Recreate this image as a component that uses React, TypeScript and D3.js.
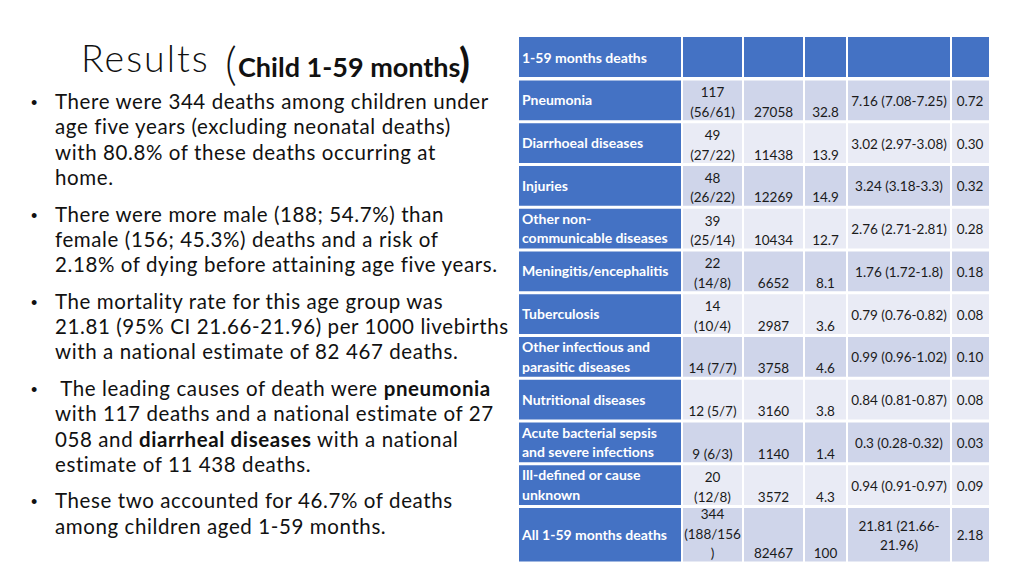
import React from "react";
import * as d3 from "d3";

// ---------- DATA ----------
const causeLabels: string[][] = [
  ["Pneumonia"],
  ["Diarrhoeal diseases"],
  ["Injuries"],
  ["Other non-", "communicable diseases"],
  ["Meningitis/encephalitis"],
  ["Tuberculosis"],
  ["Other infectious and", "parasitic diseases"],
  ["Nutritional diseases"],
  ["Acute bacterial sepsis", "and severe infections"],
  ["Ill-defined or cause", "unknown"],
  ["All 1-59  months deaths"],
];
const deaths = [117, 49, 48, 39, 22, 14, 14, 12, 9, 20, 344];
const maleDeaths = [56, 27, 26, 25, 14, 10, 7, 5, 6, 12, 188];
const femaleDeaths = [61, 22, 22, 14, 8, 4, 7, 7, 3, 8, 156];
// how the deaths cell wraps in the original table
const deathsWrap = ["two", "two", "two", "two", "two", "two", "one", "one", "one", "two", "three"];
const nationalEstimate = [27058, 11438, 12269, 10434, 6652, 2987, 3758, 3160, 1140, 3572, 82467];
const percentShare = ["32.8", "13.9", "14.9", "12.7", "8.1", "3.6", "4.6", "3.8", "1.4", "4.3", "100"];
const mortalityRate = [
  ["7.16 (7.08-7.25)"], ["3.02 (2.97-3.08)"], ["3.24 (3.18-3.3)"], ["2.76 (2.71-2.81)"],
  ["1.76 (1.72-1.8)"], ["0.79 (0.76-0.82)"], ["0.99 (0.96-1.02)"], ["0.84 (0.81-0.87)"],
  ["0.3 (0.28-0.32)"], ["0.94 (0.91-0.97)"], ["21.81 (21.66-", "21.96)"],
];
const riskPct = ["0.72", "0.30", "0.32", "0.28", "0.18", "0.08", "0.10", "0.08", "0.03", "0.09", "2.18"];
const headerLabel = "1-59  months deaths";

type Seg = { t: string; b?: boolean };
const bullets: { lines: Seg[][] }[] = [
  { lines: [
    [{ t: "There were 344 deaths among children under" }],
    [{ t: "age five years (excluding neonatal deaths)" }],
    [{ t: "with 80.8% of these deaths occurring at" }],
    [{ t: "home." }],
  ] },
  { lines: [
    [{ t: "There were more male (188; 54.7%) than" }],
    [{ t: "female (156; 45.3%) deaths and a risk of" }],
    [{ t: "2.18% of dying before attaining age five years." }],
  ] },
  { lines: [
    [{ t: "The mortality rate for this age group was" }],
    [{ t: "21.81 (95% CI 21.66-21.96) per 1000 livebirths" }],
    [{ t: "with a national estimate of 82 467 deaths." }],
  ] },
  { lines: [
    [{ t: "\u00A0The leading causes of death were " }, { t: "pneumonia", b: true }],
    [{ t: "with 117 deaths and a national estimate of 27" }],
    [{ t: "058 and " }, { t: "diarrheal diseases", b: true }, { t: " with a national" }],
    [{ t: "estimate of 11 438 deaths." }],
  ] },
  { lines: [
    [{ t: "These two accounted for 46.7% of deaths" }],
    [{ t: "among children aged 1-59 months." }],
  ] },
];

// ---------- LAYOUT ----------
const W = 1024, H = 576;
const BLUE = "#4472C4";
const DARK = "#CFD5EA";
const LIGHT = "#E9EBF5";
const FONT = "Lato, 'Open Sans', sans-serif";
const colEdges = [519, 682, 743, 804, 847, 951, 989];
const headerTop = 37, headerBottom = 78;
const bodyTop = 79, rowH = 42.75, lastRowH = 56.5;
const lineH = 19.3;

export default function App() {
  const nRows = deaths.length;
  const yRow = d3.scaleLinear().domain([0, nRows - 1]).range([bodyTop, bodyTop + (nRows - 1) * rowH]);
  const rowHeight = (i: number) => (i === nRows - 1 ? lastRowH : rowH);
  const colX = d3.scaleOrdinal<number, number>().domain(d3.range(colEdges.length)).range(colEdges);
  const colCenter = (c: number) => (colX(c) + colX(c + 1)) / 2;

  const deathLines = (i: number): string[] => {
    const a = `${deaths[i]}`, b = `(${maleDeaths[i]}/${femaleDeaths[i]})`;
    if (deathsWrap[i] === "one") return [`${a} ${b}`];
    if (deathsWrap[i] === "three") return [a, b.slice(0, -1), ")"];
    return [a, b];
  };

  const cells: React.ReactNode[] = [];
  // header
  for (let c = 0; c < colEdges.length - 1; c++) {
    const x0 = colX(c) + (c === 0 ? 0 : 1);
    const x1 = colX(c + 1) - (c === colEdges.length - 2 ? 0 : 1);
    cells.push(<rect key={`h${c}`} x={x0} y={headerTop} width={x1 - x0} height={headerBottom - headerTop - 1} fill={BLUE} />);
  }
  cells.push(
    <text key="htxt" x={colX(0) + 3} y={(headerTop + headerBottom) / 2} dominantBaseline="central"
      fill="#fff" fontWeight={700} fontSize={14} fontFamily={FONT}>{headerLabel}</text>
  );

  for (let i = 0; i < nRows; i++) {
    const top = yRow(i) + 1.5;
    const bottom = yRow(i) + rowHeight(i) - 0.5;
    const mid = (top + bottom) / 2;
    const bottomLine = bottom - 9.5;
    const fill = i % 2 === 0 ? DARK : LIGHT;
    for (let c = 0; c < colEdges.length - 1; c++) {
      const x0 = colX(c) + (c === 0 ? 0 : 1);
      const x1 = colX(c + 1) - (c === colEdges.length - 2 ? 0 : 1);
      cells.push(<rect key={`r${i}c${c}`} x={x0} y={top} width={x1 - x0} height={bottom - top - 1}
        fill={c === 0 ? BLUE : fill} />);
    }
    // label
    const lab = causeLabels[i];
    lab.forEach((l, k) => {
      cells.push(
        <text key={`l${i}${k}`} x={colX(0) + 3} y={mid - 1 + (k - (lab.length - 1) / 2) * lineH}
          dominantBaseline="central" fill="#fff" fontWeight={700} fontSize={14} fontFamily={FONT}>{l}</text>
      );
    });
    const dl = deathLines(i);
    dl.forEach((l, k) => {
      cells.push(
        <text key={`d${i}${k}`} x={colCenter(1)} y={bottomLine - (dl.length - 1 - k) * lineH}
          dominantBaseline="central" textAnchor="middle" fill="#1a1a1a" fontSize={13.5} fontFamily={FONT}>{l}</text>
      );
    });
    cells.push(
      <text key={`e${i}`} x={colCenter(2)} y={bottomLine} dominantBaseline="central" textAnchor="middle"
        fill="#1a1a1a" fontSize={13.5} fontFamily={FONT}>{`${nationalEstimate[i]}`}</text>
    );
    cells.push(
      <text key={`p${i}`} x={colCenter(3)} y={bottomLine} dominantBaseline="central" textAnchor="middle"
        fill="#1a1a1a" fontSize={13.5} fontFamily={FONT}>{percentShare[i]}</text>
    );
    const mr = mortalityRate[i];
    mr.forEach((l, k) => {
      cells.push(
        <text key={`m${i}${k}`} x={colCenter(4)} y={mid + (k - (mr.length - 1) / 2) * lineH}
          dominantBaseline="central" textAnchor="middle" fill="#1a1a1a" fontSize={13.5} fontFamily={FONT}>{l}</text>
      );
    });
    cells.push(
      <text key={`k${i}`} x={colCenter(5)} y={mid} dominantBaseline="central" textAnchor="middle"
        fill="#1a1a1a" fontSize={13.5} fontFamily={FONT}>{riskPct[i]}</text>
    );
  }

  // left text
  const textNodes: React.ReactNode[] = [];
  let baseline = 109;
  const bodyLineH = 25.3;
  const bulletGap = 11.3;
  bullets.forEach((b, bi) => {
    textNodes.push(
      <text key={`bul${bi}`} x={31} y={baseline} fontSize={18} fontFamily="Arial, 'Liberation Sans', sans-serif" fill="#111">•</text>
    );
    b.lines.forEach((segs, li) => {
      textNodes.push(
        <text key={`t${bi}-${li}`} x={55} y={baseline} fontSize={20.5} letterSpacing={0.6} fontFamily={FONT} fill="#111">
          {segs.map((s, si) => (
            <tspan key={si} fontWeight={s.b ? 700 : 400}>{s.t}</tspan>
          ))}
        </text>
      );
      if (li < b.lines.length - 1) baseline += bodyLineH;
    });
    baseline += bodyLineH + bulletGap;
  });

  return (
    <svg width={W} height={H} viewBox={`0 0 ${W} ${H}`} style={{ position: "absolute", left: 0, top: 0, background: "#fff" }}>
      <rect x={0} y={0} width={W} height={H} fill="#fff" />
      <text x={81} y={72} fontFamily={FONT} fill="#111" fontSize={37.5} fontWeight={300} letterSpacing={2}>Results</text>
      <text x={225} y={80} fontFamily={FONT} fill="#111" fontSize={46} fontWeight={300}>(</text>
      <text x={238} y={77} fontFamily={FONT} fill="#111" fontSize={27} fontWeight={700}>Child 1-59 months</text>
      <text x={459} y={77} fontFamily={FONT} fill="#111" fontSize={40} fontWeight={700}>)</text>
      {textNodes}
      {cells}
    </svg>
  );
}
